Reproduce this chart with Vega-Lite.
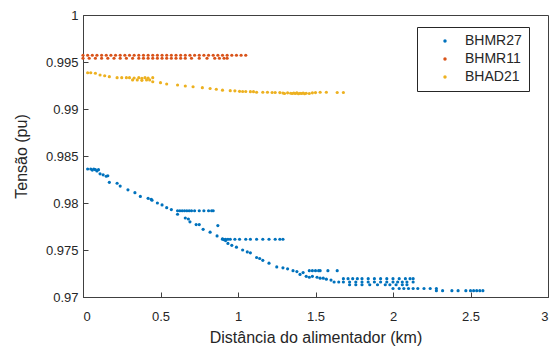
{
  "$schema": "https://vega.github.io/schema/vega-lite/v6.json",
  "width": 465,
  "height": 282,
  "autosize": {"type": "none"},
  "padding": {"left": 83, "top": 15, "right": 10, "bottom": 52},
  "background": "white",
  "config": {
    "font": "Liberation Sans",
    "view": {"stroke": "#404040", "strokeWidth": 1},
    "axis": {"grid": false, "domainColor": "#404040", "tickColor": "#404040", "labelColor": "#262626", "titleColor": "#262626", "labelFontSize": 13, "titleFontSize": 16, "titleFontWeight": "normal", "tickSize": -5, "labelFont": "Liberation Sans", "titleFont": "Liberation Sans"}
  },
  "data": {"values": [
{"s":"BHMR27","d":0.03,"v":0.98362},{"s":"BHMR27","d":0.05,"v":0.98362},{"s":"BHMR27","d":0.07,"v":0.98362},{"s":"BHMR27","d":0.08,"v":0.98355},{"s":"BHMR27","d":0.1,"v":0.98355},{"s":"BHMR27","d":0.06,"v":0.9835},{"s":"BHMR27","d":0.09,"v":0.9834},{"s":"BHMR27","d":0.11,"v":0.9831},{"s":"BHMR27","d":0.13,"v":0.983},{"s":"BHMR27","d":0.16,"v":0.9829},{"s":"BHMR27","d":0.15,"v":0.98285},{"s":"BHMR27","d":0.17,"v":0.9822},{"s":"BHMR27","d":0.22,"v":0.9821},{"s":"BHMR27","d":0.24,"v":0.9818},{"s":"BHMR27","d":0.29,"v":0.9814},{"s":"BHMR27","d":0.335,"v":0.9811},{"s":"BHMR27","d":0.37,"v":0.9807},{"s":"BHMR27","d":0.42,"v":0.9805},{"s":"BHMR27","d":0.44,"v":0.9804},{"s":"BHMR27","d":0.445,"v":0.9803},{"s":"BHMR27","d":0.48,"v":0.98},{"s":"BHMR27","d":0.51,"v":0.9798},{"s":"BHMR27","d":0.54,"v":0.9795},{"s":"BHMR27","d":0.57,"v":0.9793},
{"s":"BHMR27","d":0.61,"v":0.97918},{"s":"BHMR27","d":0.625,"v":0.97918},{"s":"BHMR27","d":0.64,"v":0.97918},{"s":"BHMR27","d":0.655,"v":0.97918},{"s":"BHMR27","d":0.67,"v":0.97918},{"s":"BHMR27","d":0.685,"v":0.97918},{"s":"BHMR27","d":0.7,"v":0.97918},{"s":"BHMR27","d":0.72,"v":0.97918},{"s":"BHMR27","d":0.75,"v":0.97918},{"s":"BHMR27","d":0.78,"v":0.97918},{"s":"BHMR27","d":0.81,"v":0.97918},{"s":"BHMR27","d":0.83,"v":0.97918},{"s":"BHMR27","d":0.84,"v":0.97918},
{"s":"BHMR27","d":0.61,"v":0.9788},{"s":"BHMR27","d":0.66,"v":0.9784},{"s":"BHMR27","d":0.68,"v":0.9783},{"s":"BHMR27","d":0.69,"v":0.978},{"s":"BHMR27","d":0.73,"v":0.9777},{"s":"BHMR27","d":0.75,"v":0.9777},{"s":"BHMR27","d":0.775,"v":0.9772},{"s":"BHMR27","d":0.82,"v":0.9769},{"s":"BHMR27","d":0.87,"v":0.9776},{"s":"BHMR27","d":0.865,"v":0.9765},{"s":"BHMR27","d":0.9,"v":0.9762},
{"s":"BHMR27","d":0.9,"v":0.97614},{"s":"BHMR27","d":0.92,"v":0.97614},{"s":"BHMR27","d":0.935,"v":0.97614},{"s":"BHMR27","d":0.95,"v":0.97614},{"s":"BHMR27","d":0.98,"v":0.97614},{"s":"BHMR27","d":1.01,"v":0.97614},{"s":"BHMR27","d":1.05,"v":0.97614},{"s":"BHMR27","d":1.08,"v":0.97614},{"s":"BHMR27","d":1.12,"v":0.97614},{"s":"BHMR27","d":1.16,"v":0.97614},{"s":"BHMR27","d":1.2,"v":0.97614},{"s":"BHMR27","d":1.24,"v":0.97614},{"s":"BHMR27","d":1.27,"v":0.97614},{"s":"BHMR27","d":1.29,"v":0.97614},{"s":"BHMR27","d":0.91,"v":0.9761},{"s":"BHMR27","d":0.92,"v":0.976},
{"s":"BHMR27","d":0.935,"v":0.9757},{"s":"BHMR27","d":0.96,"v":0.9755},{"s":"BHMR27","d":0.99,"v":0.9753},{"s":"BHMR27","d":1.03,"v":0.975},{"s":"BHMR27","d":1.06,"v":0.9748},{"s":"BHMR27","d":1.08,"v":0.9747},{"s":"BHMR27","d":1.12,"v":0.9742},{"s":"BHMR27","d":1.14,"v":0.9741},{"s":"BHMR27","d":1.16,"v":0.9739},{"s":"BHMR27","d":1.2,"v":0.9736},{"s":"BHMR27","d":1.25,"v":0.9732},{"s":"BHMR27","d":1.29,"v":0.9731},{"s":"BHMR27","d":1.32,"v":0.973},{"s":"BHMR27","d":1.355,"v":0.9728},{"s":"BHMR27","d":1.38,"v":0.9727},{"s":"BHMR27","d":1.42,"v":0.9726},
{"s":"BHMR27","d":1.46,"v":0.9728},{"s":"BHMR27","d":1.48,"v":0.9728},{"s":"BHMR27","d":1.5,"v":0.9728},{"s":"BHMR27","d":1.52,"v":0.9728},{"s":"BHMR27","d":1.53,"v":0.9728},{"s":"BHMR27","d":1.58,"v":0.9728},{"s":"BHMR27","d":1.64,"v":0.9728},
{"s":"BHMR27","d":1.4,"v":0.9724},{"s":"BHMR27","d":1.44,"v":0.9722},{"s":"BHMR27","d":1.46,"v":0.9721},{"s":"BHMR27","d":1.48,"v":0.9722},{"s":"BHMR27","d":1.51,"v":0.9721},{"s":"BHMR27","d":1.53,"v":0.972},{"s":"BHMR27","d":1.55,"v":0.972},{"s":"BHMR27","d":1.57,"v":0.9719},{"s":"BHMR27","d":1.6,"v":0.9718},
{"s":"BHMR27","d":1.68,"v":0.97195},{"s":"BHMR27","d":1.71,"v":0.97195},{"s":"BHMR27","d":1.74,"v":0.97195},{"s":"BHMR27","d":1.77,"v":0.97195},{"s":"BHMR27","d":1.8,"v":0.97195},{"s":"BHMR27","d":1.84,"v":0.97195},{"s":"BHMR27","d":1.88,"v":0.97195},{"s":"BHMR27","d":1.92,"v":0.97195},{"s":"BHMR27","d":1.96,"v":0.97195},{"s":"BHMR27","d":2.0,"v":0.97195},{"s":"BHMR27","d":2.04,"v":0.97195},{"s":"BHMR27","d":2.08,"v":0.97195},{"s":"BHMR27","d":2.11,"v":0.97195},{"s":"BHMR27","d":2.13,"v":0.97195},
{"s":"BHMR27","d":1.62,"v":0.9716},{"s":"BHMR27","d":1.65,"v":0.9716},{"s":"BHMR27","d":1.68,"v":0.9716},{"s":"BHMR27","d":1.72,"v":0.9716},{"s":"BHMR27","d":1.76,"v":0.9716},{"s":"BHMR27","d":1.8,"v":0.9716},{"s":"BHMR27","d":1.84,"v":0.9716},{"s":"BHMR27","d":1.88,"v":0.9716},{"s":"BHMR27","d":1.92,"v":0.9716},{"s":"BHMR27","d":1.96,"v":0.9716},{"s":"BHMR27","d":2.0,"v":0.9716},{"s":"BHMR27","d":2.03,"v":0.9716},{"s":"BHMR27","d":2.06,"v":0.9716},{"s":"BHMR27","d":2.09,"v":0.9716},{"s":"BHMR27","d":2.13,"v":0.9716},
{"s":"BHMR27","d":1.72,"v":0.9713},{"s":"BHMR27","d":1.76,"v":0.9713},{"s":"BHMR27","d":1.8,"v":0.9713},{"s":"BHMR27","d":1.85,"v":0.9713},{"s":"BHMR27","d":1.9,"v":0.9713},{"s":"BHMR27","d":1.95,"v":0.9713},{"s":"BHMR27","d":1.98,"v":0.9713},{"s":"BHMR27","d":2.02,"v":0.9713},{"s":"BHMR27","d":2.06,"v":0.9713},{"s":"BHMR27","d":2.09,"v":0.9713},
{"s":"BHMR27","d":2.0,"v":0.9709},{"s":"BHMR27","d":2.04,"v":0.9709},{"s":"BHMR27","d":2.07,"v":0.9709},{"s":"BHMR27","d":2.1,"v":0.9709},{"s":"BHMR27","d":2.13,"v":0.9709},{"s":"BHMR27","d":2.16,"v":0.9709},{"s":"BHMR27","d":2.2,"v":0.9709},{"s":"BHMR27","d":2.24,"v":0.9709},{"s":"BHMR27","d":2.28,"v":0.9709},
{"s":"BHMR27","d":2.28,"v":0.97067},{"s":"BHMR27","d":2.32,"v":0.97067},{"s":"BHMR27","d":2.38,"v":0.97067},{"s":"BHMR27","d":2.42,"v":0.97067},{"s":"BHMR27","d":2.47,"v":0.97067},{"s":"BHMR27","d":2.5,"v":0.97067},{"s":"BHMR27","d":2.52,"v":0.97067},{"s":"BHMR27","d":2.54,"v":0.97067},{"s":"BHMR27","d":2.56,"v":0.97067},{"s":"BHMR27","d":2.58,"v":0.97067},
{"s":"BHMR11","d":0.0,"v":0.99572},{"s":"BHMR11","d":0.03,"v":0.99572},{"s":"BHMR11","d":0.06,"v":0.99572},{"s":"BHMR11","d":0.09,"v":0.99572},{"s":"BHMR11","d":0.12,"v":0.99572},{"s":"BHMR11","d":0.15,"v":0.99572},{"s":"BHMR11","d":0.18,"v":0.99572},{"s":"BHMR11","d":0.21,"v":0.99572},{"s":"BHMR11","d":0.24,"v":0.99572},{"s":"BHMR11","d":0.27,"v":0.99572},{"s":"BHMR11","d":0.3,"v":0.99572},{"s":"BHMR11","d":0.33,"v":0.99572},{"s":"BHMR11","d":0.36,"v":0.99572},{"s":"BHMR11","d":0.39,"v":0.99572},{"s":"BHMR11","d":0.42,"v":0.99572},{"s":"BHMR11","d":0.45,"v":0.99572},{"s":"BHMR11","d":0.48,"v":0.99572},{"s":"BHMR11","d":0.51,"v":0.99572},{"s":"BHMR11","d":0.54,"v":0.99572},{"s":"BHMR11","d":0.57,"v":0.99572},{"s":"BHMR11","d":0.6,"v":0.99572},{"s":"BHMR11","d":0.63,"v":0.99572},{"s":"BHMR11","d":0.66,"v":0.99572},{"s":"BHMR11","d":0.69,"v":0.99572},{"s":"BHMR11","d":0.72,"v":0.99572},{"s":"BHMR11","d":0.75,"v":0.99572},{"s":"BHMR11","d":0.78,"v":0.99572},{"s":"BHMR11","d":0.81,"v":0.99572},{"s":"BHMR11","d":0.84,"v":0.99572},{"s":"BHMR11","d":0.87,"v":0.99572},{"s":"BHMR11","d":0.9,"v":0.99572},{"s":"BHMR11","d":0.93,"v":0.99572},{"s":"BHMR11","d":0.96,"v":0.99572},{"s":"BHMR11","d":0.99,"v":0.99572},{"s":"BHMR11","d":1.02,"v":0.99572},{"s":"BHMR11","d":1.05,"v":0.99572},
{"s":"BHMR11","d":0.0,"v":0.9954},{"s":"BHMR11","d":0.04,"v":0.9954},{"s":"BHMR11","d":0.08,"v":0.9954},{"s":"BHMR11","d":0.12,"v":0.9954},{"s":"BHMR11","d":0.16,"v":0.9954},{"s":"BHMR11","d":0.2,"v":0.9954},{"s":"BHMR11","d":0.24,"v":0.9954},{"s":"BHMR11","d":0.28,"v":0.9954},{"s":"BHMR11","d":0.32,"v":0.9954},{"s":"BHMR11","d":0.36,"v":0.9954},{"s":"BHMR11","d":0.39,"v":0.9954},{"s":"BHMR11","d":0.42,"v":0.9954},{"s":"BHMR11","d":0.45,"v":0.9954},{"s":"BHMR11","d":0.48,"v":0.9954},{"s":"BHMR11","d":0.51,"v":0.9954},{"s":"BHMR11","d":0.54,"v":0.9954},{"s":"BHMR11","d":0.57,"v":0.9954},{"s":"BHMR11","d":0.6,"v":0.9954},{"s":"BHMR11","d":0.63,"v":0.9954},{"s":"BHMR11","d":0.66,"v":0.9954},{"s":"BHMR11","d":0.7,"v":0.9954},{"s":"BHMR11","d":0.75,"v":0.9954},{"s":"BHMR11","d":0.8,"v":0.9954},{"s":"BHMR11","d":0.85,"v":0.9954},{"s":"BHMR11","d":0.88,"v":0.9954},{"s":"BHMR11","d":0.91,"v":0.9954},{"s":"BHMR11","d":0.93,"v":0.9954},
{"s":"BHAD21","d":0.03,"v":0.99386},{"s":"BHAD21","d":0.05,"v":0.99386},{"s":"BHAD21","d":0.08,"v":0.9938},{"s":"BHAD21","d":0.11,"v":0.99362},{"s":"BHAD21","d":0.14,"v":0.99354},{"s":"BHAD21","d":0.17,"v":0.99344},{"s":"BHAD21","d":0.22,"v":0.99333},{"s":"BHAD21","d":0.25,"v":0.99333},{"s":"BHAD21","d":0.28,"v":0.99333},{"s":"BHAD21","d":0.3,"v":0.99333},{"s":"BHAD21","d":0.33,"v":0.9933},{"s":"BHAD21","d":0.36,"v":0.99333},{"s":"BHAD21","d":0.38,"v":0.99325},{"s":"BHAD21","d":0.4,"v":0.99333},{"s":"BHAD21","d":0.42,"v":0.9933},{"s":"BHAD21","d":0.45,"v":0.99333},{"s":"BHAD21","d":0.32,"v":0.99309},{"s":"BHAD21","d":0.35,"v":0.99309},{"s":"BHAD21","d":0.38,"v":0.99305},{"s":"BHAD21","d":0.41,"v":0.99309},{"s":"BHAD21","d":0.43,"v":0.99309},{"s":"BHAD21","d":0.45,"v":0.9929},{"s":"BHAD21","d":0.5,"v":0.9928},{"s":"BHAD21","d":0.54,"v":0.99266},{"s":"BHAD21","d":0.61,"v":0.99255},{"s":"BHAD21","d":0.66,"v":0.99245},{"s":"BHAD21","d":0.71,"v":0.99237},{"s":"BHAD21","d":0.77,"v":0.99227},{"s":"BHAD21","d":0.82,"v":0.99218},{"s":"BHAD21","d":0.86,"v":0.9921},{"s":"BHAD21","d":0.9,"v":0.992},{"s":"BHAD21","d":0.95,"v":0.99195},{"s":"BHAD21","d":0.98,"v":0.99193},{"s":"BHAD21","d":1.01,"v":0.99188},{"s":"BHAD21","d":1.03,"v":0.99186},{"s":"BHAD21","d":1.05,"v":0.99186},{"s":"BHAD21","d":1.08,"v":0.99184},{"s":"BHAD21","d":1.1,"v":0.99184},{"s":"BHAD21","d":1.12,"v":0.99178},{"s":"BHAD21","d":1.16,"v":0.99178},{"s":"BHAD21","d":1.19,"v":0.99178},{"s":"BHAD21","d":1.22,"v":0.99176},{"s":"BHAD21","d":1.24,"v":0.99176},{"s":"BHAD21","d":1.27,"v":0.99175},{"s":"BHAD21","d":1.29,"v":0.9917},{"s":"BHAD21","d":1.3,"v":0.99165},{"s":"BHAD21","d":1.32,"v":0.99172},{"s":"BHAD21","d":1.34,"v":0.99168},{"s":"BHAD21","d":1.35,"v":0.99165},{"s":"BHAD21","d":1.36,"v":0.9917},{"s":"BHAD21","d":1.37,"v":0.99165},{"s":"BHAD21","d":1.38,"v":0.99172},{"s":"BHAD21","d":1.39,"v":0.99162},{"s":"BHAD21","d":1.4,"v":0.99168},{"s":"BHAD21","d":1.41,"v":0.99165},{"s":"BHAD21","d":1.42,"v":0.9917},{"s":"BHAD21","d":1.43,"v":0.99162},{"s":"BHAD21","d":1.44,"v":0.99168},{"s":"BHAD21","d":1.46,"v":0.99165},{"s":"BHAD21","d":1.48,"v":0.99172},{"s":"BHAD21","d":1.5,"v":0.99175},{"s":"BHAD21","d":1.53,"v":0.99178},{"s":"BHAD21","d":1.57,"v":0.99178},{"s":"BHAD21","d":1.64,"v":0.99176},{"s":"BHAD21","d":1.68,"v":0.99176}
  ]},
  "mark": {"type": "circle", "size": 10, "opacity": 1},
  "encoding": {
    "x": {"field": "d", "type": "quantitative", "scale": {"domain": [0, 3], "nice": false}, "axis": {"values": [0, 0.5, 1, 1.5, 2, 2.5, 3], "format": ".1~f", "title": "Distância do alimentador (km)", "labelPadding": 18, "titlePadding": 6}},
    "y": {"field": "v", "type": "quantitative", "scale": {"domain": [0.97, 1], "nice": false, "zero": false}, "axis": {"values": [0.97, 0.975, 0.98, 0.985, 0.99, 0.995, 1], "format": ".3~f", "title": "Tensão (pu)", "labelPadding": 10, "titlePadding": 16}},
    "color": {"field": "s", "type": "nominal", "scale": {"domain": ["BHMR27", "BHMR11", "BHAD21"], "range": ["#0072BD", "#D95319", "#EDB120"]}, "legend": {"title": null, "orient": "none", "legendX": 334, "legendY": 12, "fillColor": "white", "strokeColor": "#262626", "padding": 7, "labelFontSize": 14, "labelColor": "#262626", "symbolType": "circle", "symbolSize": 12, "symbolOffset": 14, "labelOffset": 13, "rowPadding": 4, "labelLimit": 200}}
  }
}
